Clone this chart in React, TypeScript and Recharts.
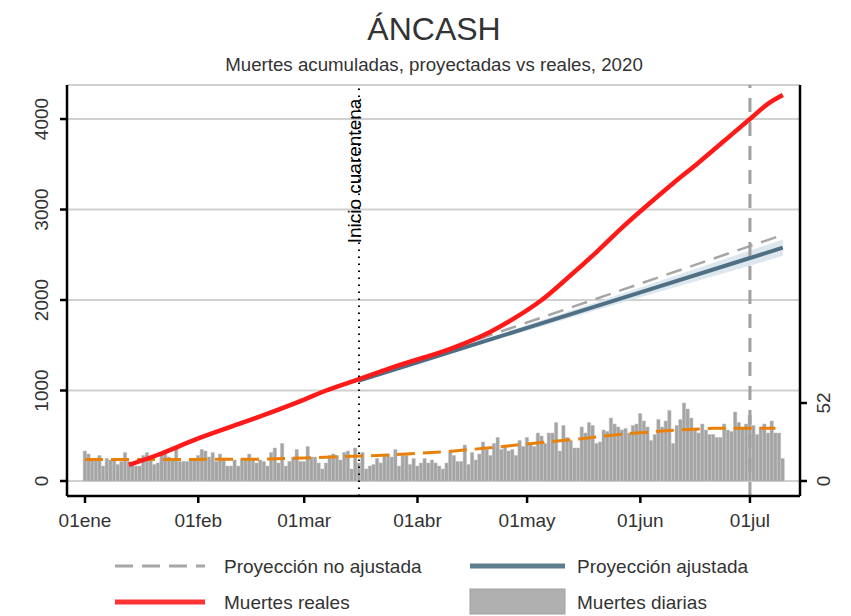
import { Area, Bar, CartesianGrid, ComposedChart, Line, ReferenceLine, XAxis, YAxis } from 'recharts'

// Daily deaths, one value per day starting 01ene (day 0)
const dailyDeaths = [
  20, 18, 14, 14, 17, 10, 15, 14, 14, 11, 13, 19, 13, 12, 10, 10, 17, 19, 16, 11, 12, 19, 18, 16, 15, 22, 13, 13, 13, 14,
  15, 17, 21, 20, 16, 19, 13, 18, 14, 10, 10, 14, 10, 15, 15, 18, 15, 12, 14, 13, 10, 19, 22, 12, 25, 10, 13, 16, 21, 13,
  13, 23, 16, 16, 12, 8, 12, 17, 18, 17, 14, 19, 20, 8, 22, 12, 19, 8, 10, 11, 15, 12, 18, 18, 16, 21, 10, 17, 17, 11,
  15, 10, 12, 15, 12, 14, 12, 10, 8, 12, 19, 17, 13, 13, 24, 11, 19, 14, 18, 26, 21, 17, 25, 29, 21, 24, 20, 21, 17, 27,
  23, 29, 24, 23, 32, 30, 25, 32, 32, 39, 20, 37, 29, 27, 22, 22, 36, 32, 39, 37, 25, 26, 34, 33, 42, 38, 36, 34, 35, 32,
  37, 38, 45, 40, 36, 27, 31, 41, 36, 40, 47, 25, 37, 41, 52, 48, 42, 34, 32, 38, 34, 31, 31, 29, 29, 38, 34, 33, 46, 39,
  35, 38, 44, 37, 31, 36, 38, 32, 40, 32, 32, 15,
]

// [day, value] pairs
const realCumulative: [number, number][] = [
  [12, 177], [20, 290], [31, 470], [40, 600], [50, 745], [60, 900], [66, 1000], [75, 1125], [86, 1280], [100, 1460],
  [111, 1650], [118, 1810], [125, 2000], [132, 2240], [140, 2530], [147, 2800], [154, 3050], [161, 3290], [168, 3520],
  [175, 3760], [182, 4000], [187, 4170], [191, 4265],
]
const adjustedProjection: [number, number][] = [[75, 1110], [91, 1312], [121, 1692], [152, 2084], [182, 2464], [191, 2578]]
const adjustedBand: [number, number, number][] = [
  [75, 1110, 1110], [91, 1300, 1324], [121, 1660, 1724], [152, 2030, 2138], [182, 2380, 2548], [191, 2488, 2668],
]
const unadjustedProjection: [number, number][] = [[75, 1115], [91, 1336], [121, 1751], [152, 2181], [182, 2596], [191, 2720]]
const dailyTrend: [number, number][] = [
  [0, 14.4], [30, 14.4], [50, 14.6], [60, 15.3], [70, 16.2], [80, 17], [91, 18.4], [99, 19.6], [106, 21.1], [114, 22.9],
  [121, 24.7], [128, 26.4], [136, 28.2], [143, 30.2], [150, 31.8], [158, 33.3], [165, 34.4], [172, 35.1], [189, 35.1],
]

const monthTicks = [0, 31, 60, 91, 121, 152, 182]
const monthLabels = ['01ene', '01feb', '01mar', '01abr', '01may', '01jun', '01jul']
const leftTicks = [0, 1000, 2000, 3000, 4000]
const rightTicks = [0, 52]
const quarantineDay = 75
const cutoffDay = 182

type Row = {
  day: number
  daily?: number
  real?: number
  adjusted?: number
  band?: [number, number]
  unadjusted?: number
  trend?: number
}

const rows: Row[] = dailyDeaths.map((v, day) => ({ day, daily: v }))
const at = (day: number) => rows[day] ?? (rows[day] = { day })
realCumulative.forEach(([d, v]) => (at(d).real = v))
adjustedProjection.forEach(([d, v]) => (at(d).adjusted = v))
adjustedBand.forEach(([d, lo, hi]) => (at(d).band = [lo, hi]))
unadjustedProjection.forEach(([d, v]) => (at(d).unadjusted = v))
dailyTrend.forEach(([d, v]) => (at(d).trend = v))

const FONT = '"Liberation Sans", Arial, Helvetica, sans-serif'
const TXT = '#333'

function XTick({ x, payload }: any) {
  const i = monthTicks.indexOf(payload.value)
  return (
    <text x={x} y={527} textAnchor="middle" fontSize={19} fontFamily={FONT} fill={TXT}>
      {monthLabels[i]}
    </text>
  )
}

function LeftTick({ y, payload }: any) {
  return (
    <text x={48} y={y} transform={`rotate(-90 48 ${y})`} textAnchor="middle" fontSize={19} fontFamily={FONT} fill={TXT}>
      {payload.value}
    </text>
  )
}

function RightTick({ y, payload }: any) {
  return (
    <text x={830} y={y} transform={`rotate(-90 830 ${y})`} textAnchor="middle" fontSize={19} fontFamily={FONT} fill={TXT}>
      {payload.value}
    </text>
  )
}

function Overlay() {
  return (
    <svg width={851} height={616} style={{ position: 'absolute', left: 0, top: 0, pointerEvents: 'none' }}>
      <text x={434} y={40} textAnchor="middle" fontSize={32} fontFamily={FONT} fill={TXT}>
        ÁNCASH
      </text>
      <text x={434} y={71} textAnchor="middle" fontSize={18.7} fontFamily={FONT} fill={TXT}>
        Muertes acumuladas, proyectadas vs reales, 2020
      </text>
      <text x={361} y={171} transform="rotate(-90 361 171)" textAnchor="middle" fontSize={19} fontFamily={FONT} fill="#000">
        Inicio cuarentena
      </text>

      <line x1={115} x2={205} y1={566} y2={566} stroke="#a6a6a6" strokeWidth={3} strokeDasharray="18 9" />
      <text x={224} y={573} fontSize={19} fontFamily={FONT} fill={TXT}>Proyección no ajustada</text>
      <line x1={470} x2={565} y1={566} y2={566} stroke="#5e7d8f" strokeWidth={5} />
      <text x={577} y={573} fontSize={19} fontFamily={FONT} fill={TXT}>Proyección ajustada</text>

      <line x1={115} x2={205} y1={602} y2={602} stroke="#ff3333" strokeWidth={5} />
      <text x={224} y={609} fontSize={19} fontFamily={FONT} fill={TXT}>Muertes reales</text>
      <rect x={470} y={589} width={95} height={25} fill="#b0b0b0" stroke="#a0a0a0" strokeWidth={1} />
      <text x={577} y={609} fontSize={19} fontFamily={FONT} fill={TXT}>Muertes diarias</text>
    </svg>
  )
}

export default function App() {
  const axisStyle = { stroke: '#000', strokeWidth: 2.5 }
  return (
    <div style={{ position: 'absolute', left: 0, top: 0, width: 851, height: 616, background: '#fff' }}>
      <ComposedChart width={851} height={616} data={rows} margin={{ top: 85, right: 0, bottom: 90, left: 0 }}>
        <CartesianGrid yAxisId="left" vertical={false} stroke="#d0d0d0" strokeWidth={2} />
        <XAxis
          dataKey="day"
          type="number"
          domain={[-4.93, 195.7]}
          allowDataOverflow
          ticks={monthTicks}
          tick={<XTick />}
          height={30}
          axisLine={axisStyle}
          tickLine={axisStyle}
          tickSize={7}
        />
        <YAxis
          yAxisId="left"
          type="number"
          domain={[-165.7, 4376]}
          allowDataOverflow
          ticks={leftTicks}
          tick={<LeftTick />}
          width={67}
          axisLine={axisStyle}
          tickLine={axisStyle}
          tickSize={7}
        />
        <YAxis
          yAxisId="right"
          orientation="right"
          type="number"
          domain={[-10, 264]}
          allowDataOverflow
          ticks={rightTicks}
          tick={<RightTick />}
          width={51}
          axisLine={axisStyle}
          tickLine={axisStyle}
          tickSize={7}
        />
        <ReferenceLine yAxisId="left" x={quarantineDay} stroke="#000" strokeWidth={2} strokeDasharray="1.5 5.5" />
        <Bar yAxisId="right" dataKey="daily" barSize={3.7} fill="#a4a4a4" stroke="#bdbdbd" strokeWidth={0.5} isAnimationActive={false} />
        <Line yAxisId="right" dataKey="trend" type="linear" stroke="#e8800a" strokeWidth={3} strokeDasharray="18 8" dot={false} connectNulls isAnimationActive={false} />
        <Area yAxisId="left" dataKey="band" type="linear" stroke="none" fill="#d5e1ea" fillOpacity={0.8} connectNulls isAnimationActive={false} />
        <Line yAxisId="left" dataKey="unadjusted" type="linear" stroke="#a6a6a6" strokeWidth={2.5} strokeDasharray="16 9" dot={false} connectNulls isAnimationActive={false} />
        <Line yAxisId="left" dataKey="adjusted" type="linear" stroke="#4f6f84" strokeWidth={4} dot={false} connectNulls isAnimationActive={false} />
        <Line yAxisId="left" dataKey="real" type="monotone" stroke="#ff1a1a" strokeWidth={4.5} dot={false} connectNulls isAnimationActive={false} />
        <ReferenceLine yAxisId="left" x={cutoffDay} stroke="#a0a0a0" strokeWidth={3} strokeDasharray="14 10" />
      </ComposedChart>
      <Overlay />
    </div>
  )
}
